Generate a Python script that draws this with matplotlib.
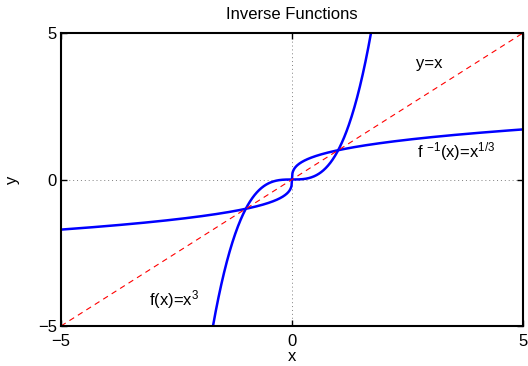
import numpy as np
import matplotlib.pyplot as plt

plt.rcParams['font.family'] = ['Liberation Sans', 'DejaVu Sans']
plt.rcParams['mathtext.fontset'] = 'custom'
plt.rcParams['mathtext.rm'] = 'Liberation Sans'
plt.rcParams['mathtext.it'] = 'Liberation Sans'
plt.rcParams['mathtext.default'] = 'regular'

# sample points for the curves
x = np.linspace(-5, 5, 1001)
f = x**3            # f(x) = x^3
finv = np.cbrt(x)   # f^-1(x) = x^(1/3)
ident = x           # y = x

ticks = [-5, 0, 5]

fig = plt.figure(figsize=(5.28, 3.66), dpi=100)
ax = fig.add_axes([0.1155, 0.1093, 0.875, 0.8005])

ax.plot(x, f, color='#0000ff', lw=1.8)
ax.plot(x, finv, color='#0000ff', lw=1.8)
ax.plot(x, ident, color='#ff0000', lw=0.8, ls=(0, (5, 4)))

ax.axhline(0, color='#808080', lw=0.7, ls=(0, (1, 3)), zorder=0)
ax.axvline(0, color='#808080', lw=0.7, ls=(0, (1, 3)), zorder=0)

ax.set_xlim(-5, 5)
ax.set_ylim(-5, 5)
ax.set_xticks(ticks)
ax.set_yticks(ticks)
ax.tick_params(direction='in', length=4, width=1, labelsize=12, top=True, right=True,
               labeltop=False, labelright=False)
ax.tick_params(axis='x', pad=6)
ax.tick_params(axis='y', pad=3)
for s in ax.spines.values():
    s.set_linewidth(1.5)

ax.text(2.68, 3.95, 'y=x', fontsize=12, va='center')
ax.text(2.7, 0.95, r'f $^{-1}$(x)=x$^{1/3}$', fontsize=12, va='center')
ax.text(-3.1, -4.1, r'f(x)=x$^3$', fontsize=12, va='center')

ax.set_title('Inverse Functions', fontsize=12, pad=10)
ax.set_xlabel('x', fontsize=12, labelpad=0)
ax.set_ylabel('y', fontsize=12, labelpad=13)

fig.savefig('out.png', dpi=100)
